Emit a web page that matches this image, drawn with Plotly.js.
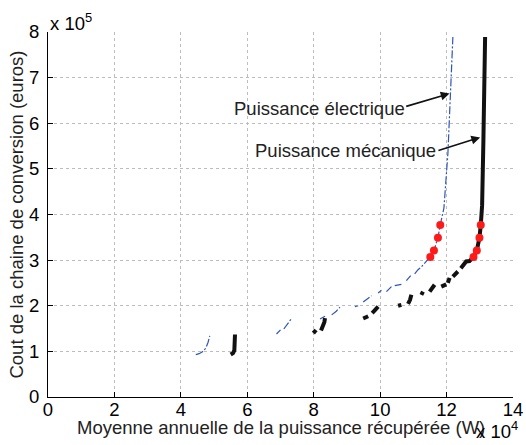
<!DOCTYPE html>
<html>
<head>
<meta charset="utf-8">
<script src="https://cdn.plot.ly/plotly-3.0.1.min.js"></script>
<style>html,body{margin:0;padding:0;background:#fff}</style>
</head>
<body>
<div id="chart" style="width:526px;height:445px"></div>
<script>
// Units: x in 10^4 W, y in 10^5 euros
const elecX = [4.45,4.55,4.65,4.75,4.82,4.87,null,
  6.88,7.00,null,7.10,7.22,7.33,null,
  8.19,8.34,null,8.54,8.68,8.79,null,
  9.24,9.34,null,9.49,9.62,9.74,null,
  9.94,10.04,null,10.19,10.34,null,10.44,10.64,null,
  10.79,10.92,null,11.04,11.14,11.24,11.34,11.44,11.51,11.62,11.74,11.81,11.92,12.04,12.12,12.19];
const elecY = [0.93,0.95,0.99,1.07,1.20,1.34,null,
  1.38,1.47,null,1.49,1.60,1.72,null,
  1.71,1.77,null,1.80,1.88,1.97,null,
  1.98,2.00,null,2.08,2.15,2.22,null,
  2.28,2.34,null,2.31,2.42,null,2.44,2.47,null,
  2.55,2.66,null,2.70,2.79,2.85,2.93,3.00,3.07,3.21,3.49,3.77,4.14,5.34,6.69,7.89];

const mecaX = [5.50,5.57,5.61,5.62,5.63,null,
  7.99,8.07,null,8.22,8.28,8.32,8.34,null,
  9.49,9.64,null,9.76,9.86,9.94,null,
  10.54,10.64,null,10.84,10.90,10.94,null,
  11.24,11.29,null,11.49,11.57,11.64,null,
  11.84,11.99,null,12.04,12.09,null,12.19,12.34,null,
  12.43,12.59,12.69,12.81,12.91,12.99,13.03,13.07,13.11,13.15,13.16];
const mecaY = [0.93,0.96,1.02,1.15,1.37,null,
  1.40,1.47,null,1.46,1.55,1.64,1.73,null,
  1.72,1.77,null,1.84,1.92,1.98,null,
  2.00,2.02,null,2.04,2.13,2.24,null,
  2.24,2.31,null,2.31,2.38,2.46,null,
  2.42,2.47,null,2.50,2.61,null,2.64,2.75,null,
  2.82,2.97,2.98,3.07,3.21,3.49,3.77,4.20,5.67,7.00,7.89];

const elecSelX = [11.51,11.62,11.74,11.81];
const mecaSelX = [12.81,12.91,12.99,13.03];
const selY = [3.07,3.21,3.49,3.77];

const xTicks = [0,2,4,6,8,10,12,14];
const yTicks = [0,1,2,3,4,5,6,7,8];
const xTitle = "Moyenne annuelle de la puissance récupérée (W)";
const yTitle = "Cout de la chaine de conversion (euros)";
const labelElec = "Puissance électrique";
const labelMeca = "Puissance mécanique";

const FONT = "Liberation Sans, Arial, Helvetica, sans-serif";
const FS = 18.5;

const traces = [
  {x: elecX, y: elecY, mode: 'lines', connectgaps: false,
   line: {color: '#2f55b8', width: 1.2, dash: '8px,2px,2px,2px'}, hoverinfo: 'skip'},
  {x: mecaX, y: mecaY, mode: 'lines', connectgaps: false,
   line: {color: '#111111', width: 4}, hoverinfo: 'skip'},
  {x: elecSelX, y: selY, mode: 'markers',
   marker: {color: '#ff1a1a', size: 8}, hoverinfo: 'skip'},
  {x: mecaSelX, y: selY, mode: 'markers',
   marker: {color: '#ff1a1a', size: 8}, hoverinfo: 'skip'}
];

const axisCommon = {
  showline: true, linecolor: '#000', linewidth: 1,
  ticks: 'inside', ticklen: 5, tickcolor: '#000',
  showgrid: true, gridcolor: '#bdbdbd', griddash: 'dot', gridwidth: 1,
  zeroline: false, mirror: false,
  tickfont: {family: FONT, size: FS, color: '#000'}
};

const layout = {
  width: 526, height: 445,
  margin: {l: 48, r: 13, t: 32, b: 48},
  paper_bgcolor: '#fff', plot_bgcolor: '#fff',
  showlegend: false,
  font: {family: FONT, size: FS, color: '#000'},
  xaxis: Object.assign({}, axisCommon, {
    range: [0, 14], tickvals: xTicks, ticktext: xTicks.map(String),
    ticklabelstandoff: -4
  }),
  yaxis: Object.assign({}, axisCommon, {
    range: [0, 8], tickvals: yTicks, ticktext: yTicks.map(String),
    ticklabelstandoff: 4,
    title: {text: yTitle, font: {family: FONT, size: FS, color: '#222'}, standoff: 0}
  }),
  annotations: [
    {text: xTitle, xref: 'paper', yref: 'paper', x: 0.5, y: -0.083, xanchor: 'center', yanchor: 'middle',
     showarrow: false, font: {family: FONT, size: FS, color: '#222'}},
    {text: labelElec, x: 8.17, y: 6.33, xref: 'x', yref: 'y', showarrow: false,
     font: {family: FONT, size: FS, color: '#222'}},
    {text: '', x: 12.09, y: 6.65, ax: 10.74, ay: 6.36, axref: 'x', ayref: 'y', xref: 'x', yref: 'y',
     showarrow: true, arrowhead: 2, arrowsize: 1.1, arrowwidth: 1.6, arrowcolor: '#111'},
    {text: labelMeca, x: 8.97, y: 5.41, xref: 'x', yref: 'y', showarrow: false,
     font: {family: FONT, size: FS, color: '#222'}},
    {text: '', x: 13.01, y: 5.69, ax: 11.71, ay: 5.39, axref: 'x', ayref: 'y', xref: 'x', yref: 'y',
     showarrow: true, arrowhead: 2, arrowsize: 1.1, arrowwidth: 1.6, arrowcolor: '#111'},
    {text: 'x 10<sup>5</sup>', xref: 'paper', yref: 'paper', x: 0, y: 1, xanchor: 'left', yanchor: 'bottom',
     showarrow: false, yshift: -4, font: {family: FONT, size: FS, color: '#000'}},
    {text: 'x 10<sup>4</sup>', xref: 'paper', yref: 'paper', x: 0.917, y: -0.128, xanchor: 'left', yanchor: 'bottom',
     showarrow: false, font: {family: FONT, size: FS, color: '#000'}}
  ]
};

Plotly.newPlot('chart', traces, layout, {staticPlot: true, displayModeBar: false});
</script>
</body>
</html>
